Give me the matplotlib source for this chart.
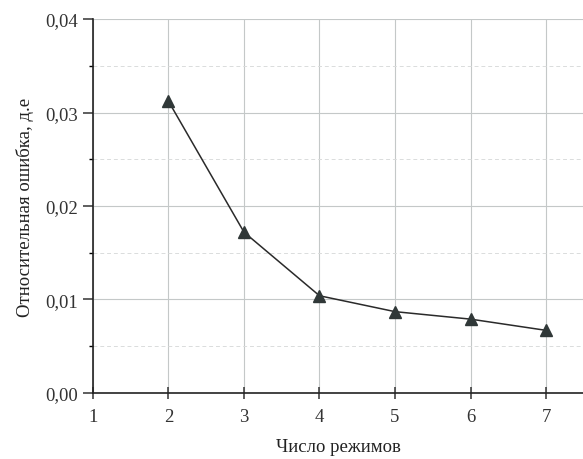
import matplotlib
matplotlib.use("Agg")
import matplotlib.pyplot as plt
from matplotlib.ticker import MultipleLocator, FuncFormatter

# Number of modes vs. relative error
modes = [2, 3, 4, 5, 6, 7]
rel_error = [0.0312, 0.0172, 0.0104, 0.0087, 0.0079, 0.0067]

x_ticks = [1, 2, 3, 4, 5, 6, 7]
y_ticks = [0.00, 0.01, 0.02, 0.03, 0.04]

plt.rcParams['font.family'] = ['Liberation Serif', 'DejaVu Serif']

fig = plt.figure(figsize=(5.83, 4.6), dpi=100)
ax = fig.add_axes([0.1595, 0.1435, 0.8405, 0.8130])

ax.plot(modes, rel_error, color='#2a2a2a', lw=1.1, marker='^', ms=9,
        markerfacecolor='#303838', markeredgecolor='#303838', zorder=3)

ax.set_xlim(1, 7.49)
ax.set_ylim(0, 0.04)
ax.set_xticks(x_ticks)
ax.set_yticks(y_ticks)
ax.yaxis.set_minor_locator(MultipleLocator(0.005))
ax.yaxis.set_major_formatter(FuncFormatter(lambda v, p: f"{v:.2f}".replace('.', ',')))

ax.grid(True, which='major', color='#c4c8c8', lw=0.8)
ax.grid(True, which='minor', axis='y', color='#dadcdc', lw=0.7, ls=(0, (4, 3)))
ax.set_axisbelow(True)

for s in ('top', 'right'):
    ax.spines[s].set_visible(False)
for s in ('left', 'bottom'):
    ax.spines[s].set_linewidth(1.2)
    ax.spines[s].set_color('#222222')

ax.tick_params(axis='y', which='major', direction='out', length=7, width=1.1,
               labelsize=13.5, colors='#333333', pad=4)
ax.tick_params(axis='y', which='minor', direction='out', length=3, width=1.0)
ax.tick_params(axis='x', which='major', direction='inout', length=9, width=1.1,
               labelsize=13.5, colors='#333333', pad=6)

ax.set_xlabel('Число режимов', fontsize=13.5, color='#222222', labelpad=10)
ax.set_ylabel('Относительная ошибка, д.е', fontsize=13.5, color='#222222', labelpad=8)

fig.savefig('out.png', dpi=100)
